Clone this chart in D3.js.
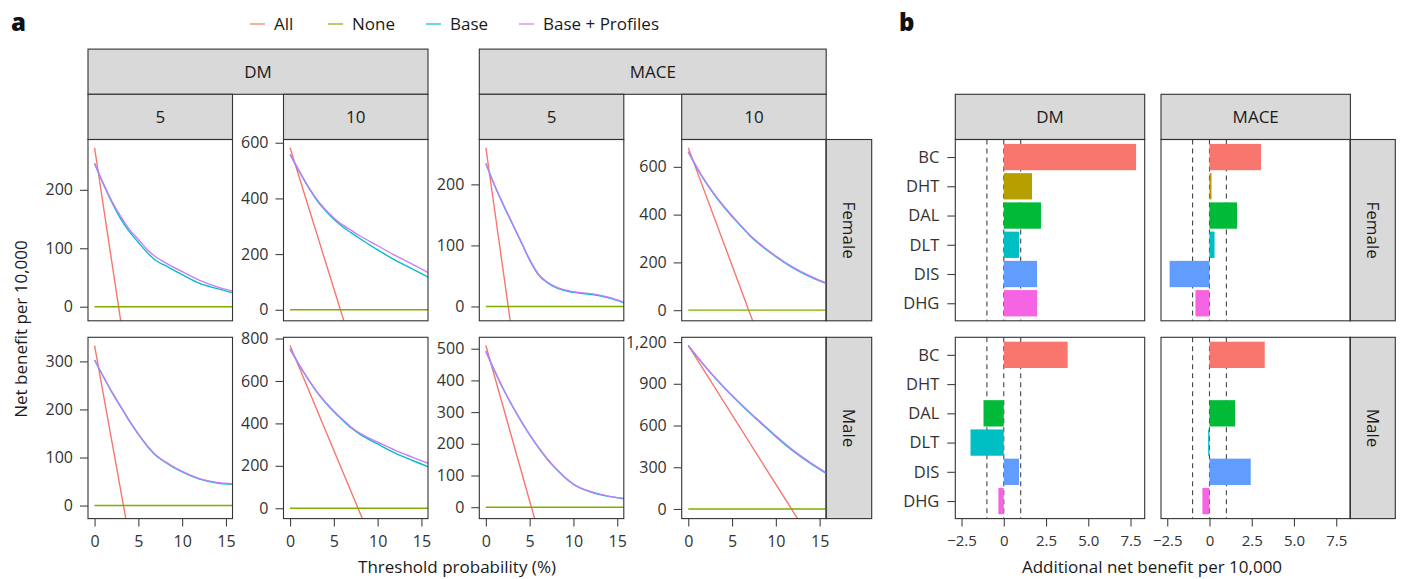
<!DOCTYPE html>
<html>
<head>
<meta charset="utf-8">
<script src="https://cdn.jsdelivr.net/npm/d3@7"></script>
<style>
  body { margin: 0; background: #fff; }
  svg { display: block; font-family: 'Open Sans', Roboto, sans-serif; }
</style>
</head>
<body>
<svg id="chart" width="1406" height="579"></svg>
<script>
// ---- panel a data: net benefit per 10,000 ----
const outcomes = ['DM', 'MACE'];
const horizons = ['5', '10'];
const sexes = ['Female', 'Male'];
const strategies = ['All', 'None', 'Base', 'Base + Profiles'];
const strategyColors = ['#F8766D', '#7CAE00', '#00BFC4', '#C77CFF'];

// panel order: DM 5, DM 10, MACE 5, MACE 10 (Female row, then Male row)
const thresholds = [0, 1, 2, 3, 4, 5, 6, 7, 8, 10, 12, 14, 16];
const baseNB = [
  [245, 210, 178, 150, 128, 110, 93, 79, 71, 55, 40, 31, 23],
  [558, 500, 445, 396, 357, 325, 298, 276, 255, 215, 178, 146, 114],
  [234, 198, 166, 136, 106, 76, 52, 39, 31, 23, 20, 14, 5],
  [663, 595, 535, 482, 435, 392, 352, 313, 280, 224, 176, 138, 108],
  [303, 268, 235, 205, 175, 148, 124, 104, 91, 70, 55, 47, 44],
  [751, 678, 612, 551, 500, 455, 415, 378, 348, 303, 260, 225, 192],
  [492, 430, 372, 320, 272, 228, 188, 152, 121, 72, 48, 34, 26],
  [1175, 1095, 1019, 947, 879, 814, 752, 692, 634, 520, 415, 325, 245],
];
const profilesNB = [
  [245, 211, 180, 154, 132, 115, 98, 85, 76, 60, 45, 34, 26],
  [558, 501, 447, 399, 361, 330, 305, 285, 265, 230, 195, 163, 130],
  [234, 198, 167, 137, 107, 77, 53, 40, 32, 24, 21, 15, 6],
  [664, 597, 537, 485, 438, 395, 355, 316, 283, 227, 179, 141, 110],
  [303, 269, 236, 206, 176, 149, 125, 105, 92, 71, 56, 48, 45],
  [751, 679, 613, 553, 502, 458, 418, 382, 353, 312, 273, 240, 208],
  [492, 430, 373, 321, 273, 229, 189, 153, 122, 73, 49, 35, 27],
  [1175, 1096, 1020, 949, 881, 817, 755, 696, 639, 526, 421, 331, 251],
];
// treat-all: start, zero crossing, and a point below the panel
const treatAllNB = [
  [[0, 272], [2.74, 0], [4, -125]],
  [[0, 582], [5.75, 0], [7, -126]],
  [[0, 260], [2.55, 0], [3.5, -97]],
  [[0, 680], [6.9, 0], [8, -108]],
  [[0, 333], [3.3, 0], [4, -71]],
  [[0, 767], [7.76, 0], [9, -123]],
  [[0, 510], [5.2, 0], [6, -78]],
  [[0, 1175], [11.78, 0], [13, -122]],
];
const treatNoneNB = [[0, 0], [16, 0]];
const yLowerLimit = -10;
const yTicksA = [
  [0, 100, 200], [0, 200, 400, 600], [0, 100, 200], [0, 200, 400, 600],
  [0, 100, 200, 300], [0, 200, 400, 600, 800], [0, 100, 200, 300, 400, 500], [0, 300, 600, 900, 1200],
];
const xTicksA = [0, 5, 10, 15];

// ---- panel b data: additional net benefit per 10,000 ----
const profileTypes = ['BC', 'DHT', 'DAL', 'DLT', 'DIS', 'DHG'];
const profileColors = ['#F8766D', '#B79F00', '#00BA38', '#00BFC4', '#619CFF', '#F564E3'];
const gainDmFemale = [7.83, 1.67, 2.2, 0.9, 1.97, 1.97];
const gainMaceFemale = [3.05, 0.12, 1.63, 0.3, -2.36, -0.83];
const gainDmMale = [3.78, null, -1.2, -1.97, 0.9, -0.32];
const gainMaceMale = [3.27, null, 1.51, -0.08, 2.44, -0.42];
const refLines = [-1, 0, 1];
const xTicksB = [-2.5, 0, 2.5, 5, 7.5];

// ---- layout ----
const svg = d3.select('#chart');
svg.append('rect').attr('width', 1406).attr('height', 579).attr('fill', '#fff');

const colLeftA = [88, 283.5, 479.3, 681.7];
const panelWA = 144.5;
const rowTop = [139.5, 337.3];
const panelH = 181.3;
const stripH = 45.2;
const border = '#333';
const stripFill = '#D9D9D9';
const textColor = '#1a1a1a';
const labelFont = 17;

function strip(x, y, w, h, label, rotate) {
  svg.append('rect')
    .attr('x', x).attr('y', y).attr('width', w).attr('height', h)
    .attr('fill', stripFill).attr('stroke', border).attr('stroke-width', 1.1);
  const t = svg.append('text')
    .attr('text-anchor', 'middle')
    .attr('dy', '0.36em')
    .attr('font-size', labelFont)
    .attr('fill', textColor)
    .text(label);
  if (rotate) t.attr('transform', `translate(${x + w / 2}, ${y + h / 2}) rotate(90)`);
  else t.attr('x', x + w / 2).attr('y', y + h / 2);
}

function styleAxis(g, size) {
  g.select('.domain').remove();
  g.selectAll('.tick line').attr('stroke', '#444').attr('stroke-width', 1.1);
  g.selectAll('.tick text').attr('fill', '#333').attr('font-size', size)
    .attr('font-family', '"Open Sans", Roboto, sans-serif');
  g.attr('font-family', null).attr('font-size', null);
}

const lineGen = (x, y) => d3.line().x((d) => x(d[0])).y((d) => y(d[1])).curve(d3.curveMonotoneX);

// ---- panel a ----
outcomes.forEach((o, oi) => {
  const l = colLeftA[oi * 2];
  const r = colLeftA[oi * 2 + 1] + panelWA;
  strip(l, rowTop[0] - 2 * stripH, r - l, stripH, o);
  horizons.forEach((h, hi) => {
    strip(colLeftA[oi * 2 + hi], rowTop[0] - stripH, panelWA, stripH, h);
  });
});

sexes.forEach((s, si) => {
  const top = rowTop[si];
  strip(826, top, 45.7, panelH, s, true);
  for (let c = 0; c < 4; c++) {
    const idx = si * 4 + c;
    const left = colLeftA[c];
    const x = d3.scaleLinear().domain([-0.75, 15.75]).range([left, left + panelWA]);
    const yHi = d3.max([...baseNB[idx], ...profilesNB[idx], treatAllNB[idx][0][1]]);
    const pad = (yHi - yLowerLimit) * 0.05;
    const y = d3.scaleLinear().domain([yLowerLimit - pad, yHi + pad]).range([top + panelH, top]);

    const clipId = `clipA${idx}`;
    svg.append('clipPath').attr('id', clipId)
      .append('rect').attr('x', left).attr('y', top).attr('width', panelWA).attr('height', panelH);

    const g = svg.append('g').attr('clip-path', `url(#${clipId})`);
    const series = [
      treatAllNB[idx],
      treatNoneNB,
      thresholds.map((t, i) => [t, baseNB[idx][i]]),
      thresholds.map((t, i) => [t, profilesNB[idx][i]]),
    ];
    series.forEach((pts, k) => {
      g.append('path')
        .attr('d', lineGen(x, y)(pts))
        .attr('fill', 'none')
        .attr('stroke', strategyColors[k])
        .attr('stroke-width', 1.4);
    });

    svg.append('rect')
      .attr('x', left).attr('y', top).attr('width', panelWA).attr('height', panelH)
      .attr('fill', 'none').attr('stroke', border).attr('stroke-width', 1.1);

    const ya = svg.append('g')
      .attr('transform', `translate(${left}, 0)`)
      .call(d3.axisLeft(y).tickValues(yTicksA[idx]).tickSize(8).tickPadding(7).tickFormat(d3.format(',')));
    styleAxis(ya, 16);

    if (si === 1) {
      const xa = svg.append('g')
        .attr('transform', `translate(0, ${top + panelH})`)
        .call(d3.axisBottom(x).tickValues(xTicksA).tickSize(8).tickPadding(9));
      styleAxis(xa, 16);
    }
  }
});

// legend
const legendX = [250, 328, 426, 519];
strategies.forEach((s, i) => {
  svg.append('line')
    .attr('x1', legendX[i]).attr('x2', legendX[i] + 15)
    .attr('y1', 24).attr('y2', 24)
    .attr('stroke', strategyColors[i]).attr('stroke-width', 1.4).attr('opacity', 0.85);
  svg.append('text')
    .attr('x', legendX[i] + 24).attr('y', 24).attr('dy', '0.36em')
    .attr('font-size', labelFont).attr('fill', textColor)
    .text(s);
});

svg.append('text').attr('x', 11).attr('y', 31).attr('font-size', 24).attr('font-weight', 800)
  .attr('fill', '#111').text('a');
svg.append('text').attr('x', 899).attr('y', 31).attr('font-size', 24).attr('font-weight', 800)
  .attr('fill', '#111').text('b');

svg.append('text')
  .attr('transform', `translate(21, ${rowTop[0] + (rowTop[1] + panelH - rowTop[0]) / 2}) rotate(-90)`)
  .attr('text-anchor', 'middle').attr('dy', '0.36em')
  .attr('font-size', labelFont).attr('fill', textColor)
  .text('Net benefit per 10,000');
svg.append('text')
  .attr('x', 457).attr('y', 573)
  .attr('text-anchor', 'middle')
  .attr('font-size', labelFont).attr('fill', textColor)
  .text('Threshold probability (%)');

// ---- panel b ----
const colLeftB = [955.3, 1161];
const panelWB = 189.4;
const gains = [[gainDmFemale, gainMaceFemale], [gainDmMale, gainMaceMale]];
const allGains = [...gainDmFemale, ...gainMaceFemale, ...gainDmMale, ...gainMaceMale, 0]
  .filter((v) => v !== null);
const [gMin, gMax] = d3.extent(allGains);
const gPad = (gMax - gMin) * 0.05;

outcomes.forEach((o, oi) => {
  strip(colLeftB[oi], rowTop[0] - stripH, panelWB, stripH, o);
});

sexes.forEach((s, si) => {
  const top = rowTop[si];
  strip(1350, top, 45.3, panelH, s, true);
  outcomes.forEach((o, oi) => {
    const left = colLeftB[oi];
    const x = d3.scaleLinear().domain([gMin - gPad, gMax + gPad]).range([left, left + panelWB]);
    const y = d3.scalePoint().domain(profileTypes).range([top, top + panelH]).padding(0.6);
    const bandH = y.step() * 0.9;

    svg.append('g')
      .selectAll('line')
      .data(refLines)
      .enter()
      .append('line')
      .attr('x1', (d) => x(d)).attr('x2', (d) => x(d))
      .attr('y1', top).attr('y2', top + panelH)
      .attr('stroke', '#444').attr('stroke-width', 1.1)
      .attr('stroke-dasharray', '5,4');

    const vals = gains[si][oi];
    svg.append('g')
      .selectAll('rect')
      .data(profileTypes.map((p, i) => ({ p, v: vals[i], c: profileColors[i] })).filter((d) => d.v !== null))
      .enter()
      .append('rect')
      .attr('x', (d) => x(Math.min(0, d.v)))
      .attr('width', (d) => Math.abs(x(d.v) - x(0)))
      .attr('y', (d) => y(d.p) - bandH / 2)
      .attr('height', bandH)
      .attr('fill', (d) => d.c);

    svg.append('rect')
      .attr('x', left).attr('y', top).attr('width', panelWB).attr('height', panelH)
      .attr('fill', 'none').attr('stroke', border).attr('stroke-width', 1.1);

    if (oi === 0) {
      const ya = svg.append('g')
        .attr('transform', `translate(${left}, 0)`)
        .call(d3.axisLeft(y).tickSize(8).tickPadding(8));
      styleAxis(ya, 16.5);
    }
    if (si === 1) {
      const xa = svg.append('g')
        .attr('transform', `translate(0, ${top + panelH})`)
        .call(d3.axisBottom(x).tickValues(xTicksB).tickSize(8).tickPadding(9)
          .tickFormat((d) => (d === 0 ? '0' : d3.format('.1f')(d))));
      styleAxis(xa, 15);
    }
  });
});

svg.append('text')
  .attr('x', 1152).attr('y', 573)
  .attr('text-anchor', 'middle')
  .attr('font-size', labelFont).attr('fill', textColor)
  .text('Additional net benefit per 10,000');
</script>
</body>
</html>
